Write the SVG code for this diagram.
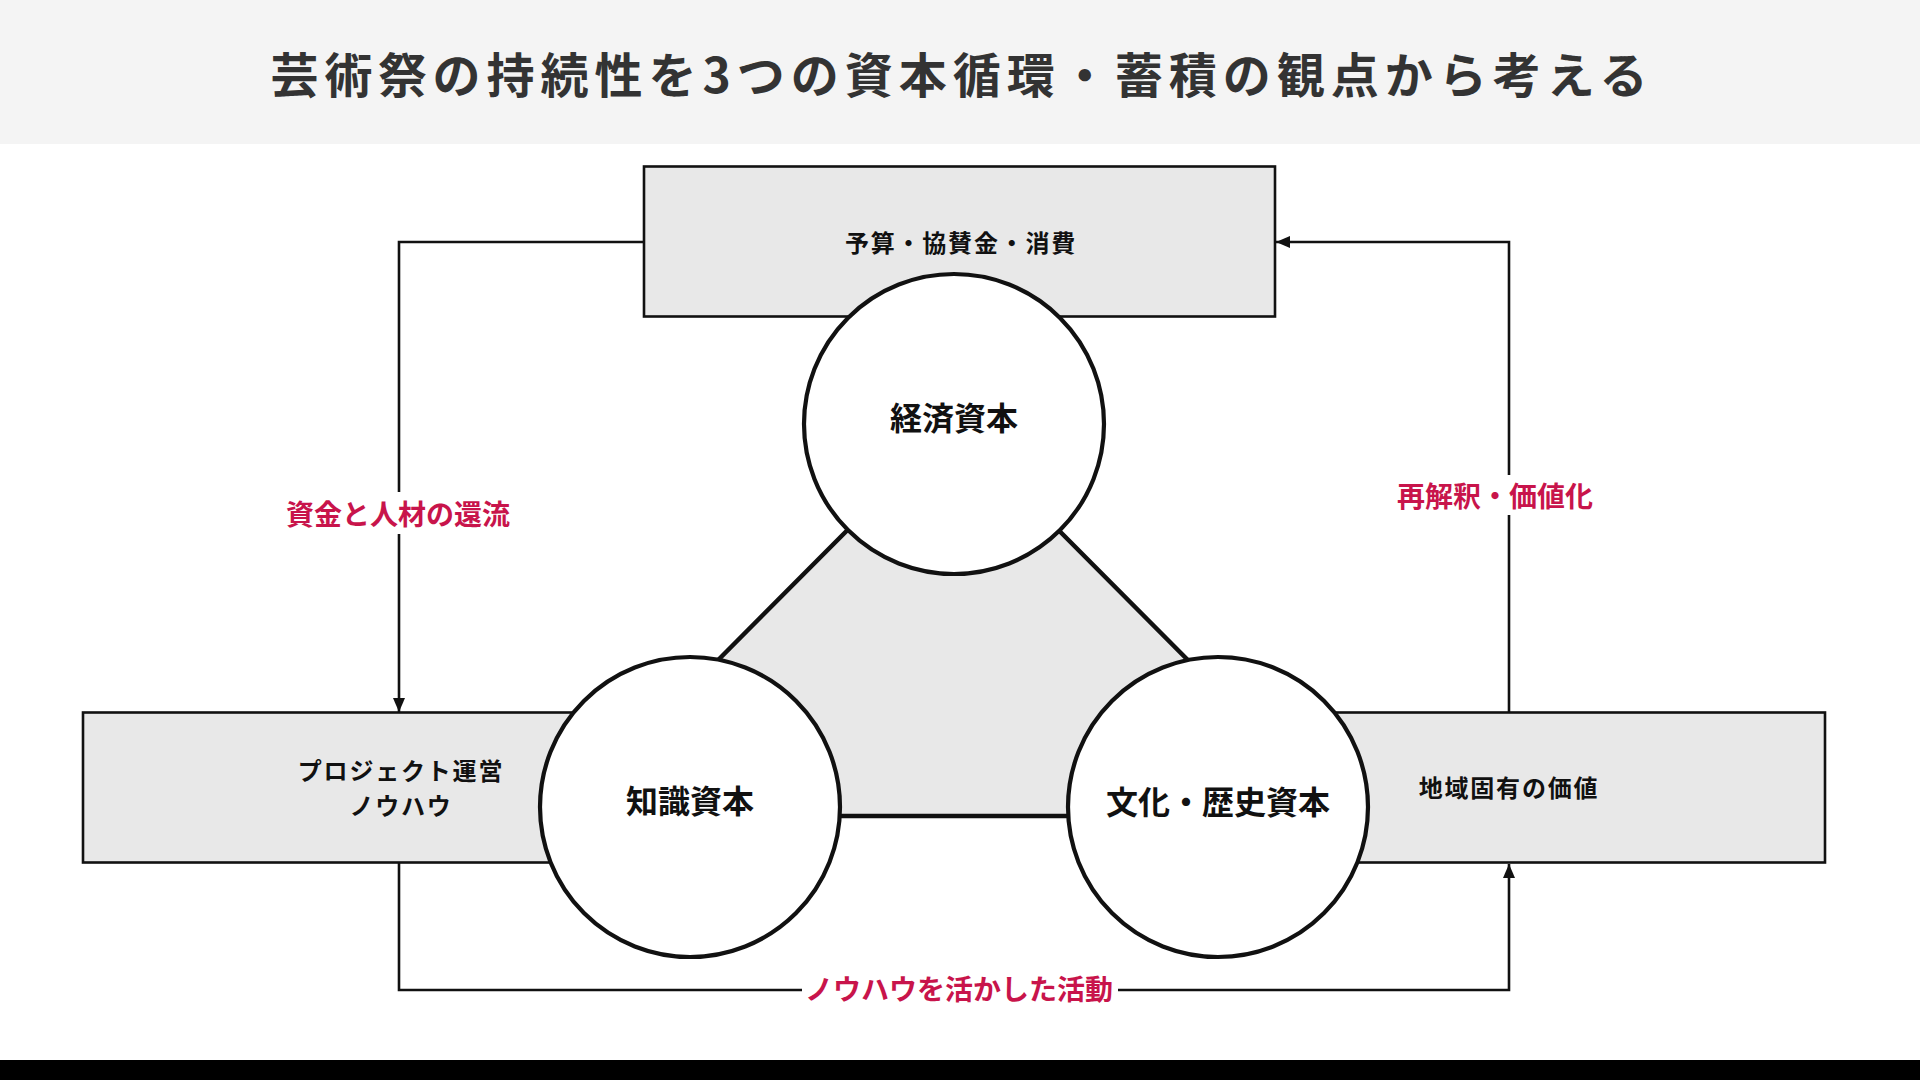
<svg xmlns="http://www.w3.org/2000/svg" width="1920" height="1080" viewBox="0 0 1920 1080">
  <defs>
    <marker id="arrow" markerUnits="userSpaceOnUse" markerWidth="14" markerHeight="12" refX="14" refY="6" orient="auto">
      <path d="M0,0 L14,6 L0,12 Z" fill="#111"/>
    </marker>
    <style>
      .jp { font-family: "Noto Sans CJK JP", "Noto Sans", sans-serif; font-weight: 700; }
      .title { font-size: 48px; fill: #333; letter-spacing: 6px; }
      .box { fill: #e8e8e8; stroke: #111; stroke-width: 2.6; }
      .boxtxt { font-size: 24px; fill: #111; letter-spacing: 1.8px; }
      .circle { fill: #fff; stroke: #111; stroke-width: 4.2; }
      .ctxt { font-size: 32px; fill: #111; }
      .conn { fill: none; stroke: #111; stroke-width: 2.6; }
      .lbl { font-size: 28px; fill: #c8144b; }
      .lblbg { fill: #fff; }
    </style>
  </defs>

  <rect x="0" y="0" width="1920" height="1080" fill="#fff"/>
  <rect x="0" y="0" width="1920" height="144" fill="#f4f4f4"/>
  <text class="jp title" x="962" y="72" text-anchor="middle" dominant-baseline="central">芸術祭の持続性を3つの資本循環・蓄積の観点から考える</text>

  <g id="connectors">
    <path class="conn" d="M644,242 H399 V712" marker-end="url(#arrow)"/>
    <path class="conn" d="M1509,712 V242 H1276" marker-end="url(#arrow)"/>
    <path class="conn" d="M399,863 V990 H1509 V864" marker-end="url(#arrow)"/>
    <g id="label-left">
      <rect class="lblbg" x="284" y="492" width="228" height="42"/>
      <text class="jp lbl" x="398" y="513" text-anchor="middle" dominant-baseline="central">資金と人材の還流</text>
    </g>
    <g id="label-right">
      <rect class="lblbg" x="1395" y="475" width="200" height="40"/>
      <text class="jp lbl" x="1495" y="495" text-anchor="middle" dominant-baseline="central">再解釈・価値化</text>
    </g>
    <g id="label-bottom">
      <rect class="lblbg" x="802" y="969" width="316" height="40"/>
      <text class="jp lbl" x="959" y="988" text-anchor="middle" dominant-baseline="central">ノウハウを活かした活動</text>
    </g>
  </g>

  <g id="node-budget">
    <rect class="box" x="644" y="166.5" width="631" height="150"/>
    <text class="jp boxtxt" x="961" y="241" text-anchor="middle" dominant-baseline="central">予算・協賛金・消費</text>
  </g>
  <g id="node-knowhow">
    <rect class="box" x="83" y="712.5" width="632" height="150"/>
    <text class="jp boxtxt" x="401" y="769" text-anchor="middle" dominant-baseline="central">プロジェクト運営</text>
    <text class="jp boxtxt" x="401" y="804" text-anchor="middle" dominant-baseline="central">ノウハウ</text>
  </g>
  <g id="node-local-value">
    <rect class="box" x="1193" y="712.5" width="632" height="150"/>
    <text class="jp boxtxt" x="1509" y="786" text-anchor="middle" dominant-baseline="central">地域固有の価値</text>
  </g>

  <g id="triangle">
    <polygon points="953,424 563,816 1343,816" fill="#e8e8e8" stroke="#111" stroke-width="4.4" stroke-linejoin="miter"/>
  </g>

  <g id="node-economic">
    <circle class="circle" cx="954" cy="424" r="150"/>
    <text class="jp ctxt" x="954" y="416" text-anchor="middle" dominant-baseline="central">経済資本</text>
  </g>
  <g id="node-knowledge">
    <circle class="circle" cx="690" cy="807" r="150"/>
    <text class="jp ctxt" x="690" y="799" text-anchor="middle" dominant-baseline="central">知識資本</text>
  </g>
  <g id="node-culture">
    <circle class="circle" cx="1218" cy="807" r="150"/>
    <text class="jp ctxt" x="1218" y="800" text-anchor="middle" dominant-baseline="central">文化・歴史資本</text>
  </g>

  <rect x="0" y="1060" width="1920" height="20" fill="#000"/>
</svg>
